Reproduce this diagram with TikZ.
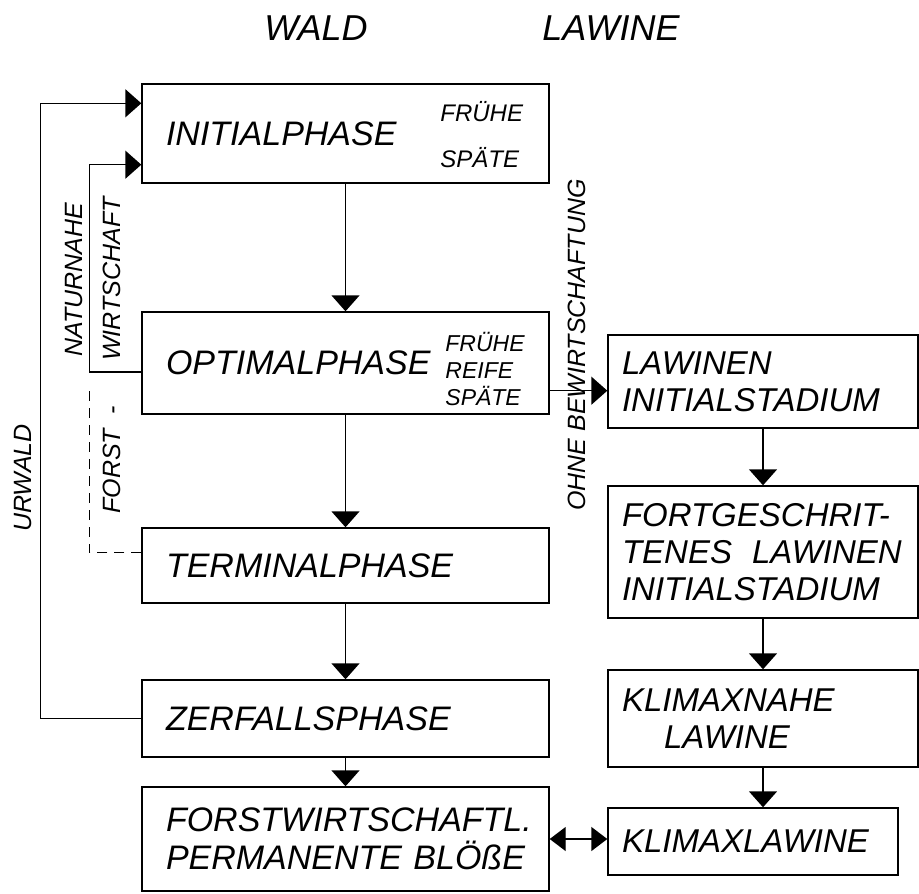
\documentclass[tikz,border=0pt]{standalone}
\usepackage{fontspec}
\setmainfont{Liberation Sans}
\usetikzlibrary{arrows.meta,calc}

\tikzset{
  phase/.style={draw,line width=0.7pt,text width=179.5pt,inner xsep=12pt,align=left,
    font=\fontsize{17}{19}\selectfont\itshape},
  stadium/.style={draw,line width=0.7pt,text width=141pt,inner xsep=7pt,align=left,
    font=\fontsize{16.5}{18.5}\selectfont\itshape},
  flow/.style={line width=0.7pt,-{Triangle[length=8pt,width=14pt]}},
  twoway/.style={line width=0.7pt,{Triangle[length=8pt,width=12pt]}-{Triangle[length=8pt,width=12pt]}},
  seite/.style={font=\fontsize{12.5}{14}\selectfont\itshape,rotate=90},
  stufe/.style={font=\fontsize{12}{13.5}\selectfont\itshape,align=left,anchor=west,inner sep=0pt}
}

\begin{document}
\begin{tikzpicture}[x=0.5pt,y=-0.5pt]
  \useasboundingbox (0,0) rectangle (919,893);
  \node (wald) [font=\fontsize{18}{20}\selectfont\itshape] at (316,28) {WALD};
  \node (lawine) [font=\fontsize{18}{20}\selectfont\itshape] at (611,28) {LAWINE};

  % Wald
  \node (init) [phase,minimum height=49.5pt] at (345.5,133.5) {INITIALPHASE};
  \node (opt) [phase,minimum height=51pt] at (345.5,363) {OPTIMALPHASE};
  \node (term) [phase,minimum height=37.5pt] at (345.5,565.5) {TERMINALPHASE};
  \node (zerf) [phase,minimum height=38.5pt] at (345.5,718.5) {ZERFALLSPHASE};
  \node (forst) [phase,minimum height=52pt] at (345.5,839) {FORSTWIRTSCHAFTL.\\PERMANENTE BLÖßE};
  \node (ifrueh) [stufe] at (440,112) {FRÜHE};
  \node (ispaet) [stufe] at (440,158) {SPÄTE};
  \node (ostufen) [stufe,font=\fontsize{11.5}{13.5}\selectfont\itshape] at (445,369) {FRÜHE\\REIFE\\SPÄTE};

  % Lawine
  \node (lawA) [stadium,minimum height=46.5pt] at (763,381.5) {LAWINEN\\INITIALSTADIUM};
  \node (lawB) [stadium,minimum height=66pt] at (763,552) {FORTGESCHRIT-\\TENES\hspace{10pt}LAWINEN\\INITIALSTADIUM};
  \node (lawC) [stadium,minimum height=48.5pt] at (763,718.5) {KLIMAXNAHE\\ \hspace*{21pt}LAWINE};
  \node (lawD) [stadium,text width=131pt,minimum height=33.5pt] at (753,841.5) {KLIMAXLAWINE};

  \node (urwald) [seite] at (23,478) {URWALD};
  \node (natur) [seite] at (74,280) {NATURNAHE};
  \node (wirt) [seite] at (112,279) {WIRTSCHAFT};
  \node (forstl) [seite] at (112,460) {FORST\ \ -};
  \node (ohne) [seite] at (577,345) {OHNE BEWIRTSCHAFTUNG};

  \draw[flow] (init) -- (opt);
  \draw[flow] (opt) -- (term);
  \draw[flow] (term) -- (zerf);
  \draw[flow] (zerf) -- (forst);
  \draw[flow] (lawA) -- (lawB);
  \draw[flow] (lawB) -- (lawC);
  \draw[flow] (lawC.south) -- (lawC.south |- lawD.north);
  \coordinate (ob) at ($(opt.south east)+(0,-24)$);
  \draw[flow] (ob) -- (ob -| lawA.west);
  \draw[twoway] (forst.east) -- (forst.east -| lawD.west);

  % Rueckwege
  \coordinate (u1) at ($(init.north west)+(0,20)$);
  \draw[flow] (zerf.west) -- ++(-101,0) |- (u1);
  \coordinate (n0) at ($(opt.west)+(0,9)$);
  \coordinate (n1) at ($(init.south west)+(0,-19)$);
  \draw[flow] (n0) -- ++(-52,0) |- (n1);
  \coordinate (f0) at ($(term.west)+(0,-13)$);
  \draw[line width=0.7pt,dash pattern=on 5pt off 3.5pt] (f0) -- ++(-52,0) -- ++(0,-165);
\end{tikzpicture}
\end{document}
